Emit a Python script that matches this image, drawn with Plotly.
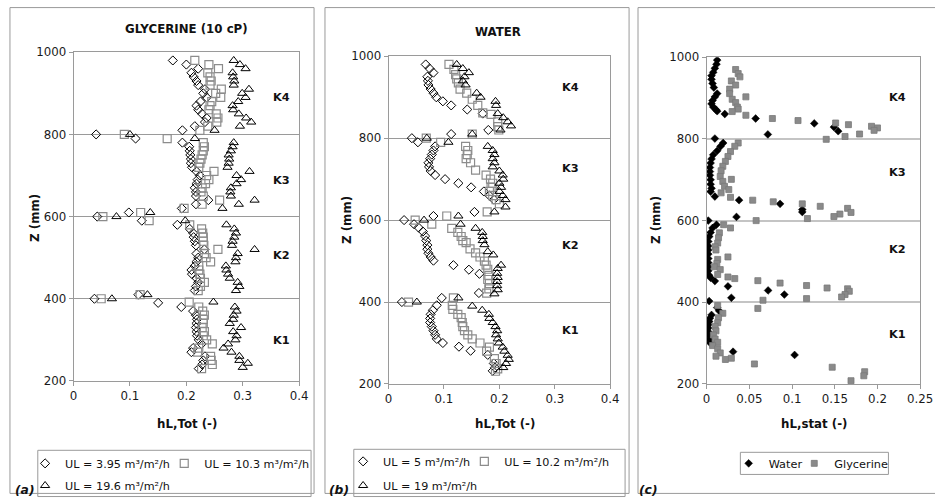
import plotly.graph_objects as go

W, H = 935, 501
FONT = "DejaVu Sans"

# the photographed page shows the paper slightly inset; positions below are given
# in picture pixels and converted to paper fractions here
SX, OX = 0.988, 3.0
SY, OY = 0.967, 8.0


def X(px):
    return (px - OX) / SX / W


def Y(py):
    return 1 - (py - OY) / SY / H


def clamp(v):
    return min(max(v, 0.6 / H), 1 - 0.6 / H)


# ---------------- Panel (a) : GLYCERINE (10 cP) ----------------
a_z_d = [980, 970, 960, 950, 940, 930, 920, 910, 900, 890, 880, 870, 860, 850, 840, 830, 820, 810,
         800, 790, 780,
         770, 760, 750, 740, 730, 720, 710, 700, 690, 680, 670, 660, 650, 640, 630, 620,
         610, 600, 590, 580,
         570, 560, 550, 540, 530, 520, 510, 500, 490, 480, 470, 460, 450, 440, 430, 420,
         410, 400, 390, 380,
         370, 360, 350, 340, 330, 320, 310, 300, 290, 280, 270, 260, 250, 240, 230]
a_h_d = [0.176, 0.200, 0.221, 0.209, 0.213, 0.218, 0.221, 0.233, 0.230, 0.236, 0.225, 0.218, 0.221, 0.228, 0.236, 0.233, 0.215, 0.193,
         0.040, 0.110, 0.193,
         0.205, 0.206, 0.207, 0.208, 0.208, 0.210, 0.218, 0.224, 0.220, 0.218, 0.215, 0.217, 0.217, 0.239, 0.217, 0.192,
         0.098, 0.042, 0.121, 0.184,
         0.206, 0.212, 0.213, 0.215, 0.217, 0.232, 0.218, 0.221, 0.218, 0.215, 0.209, 0.210, 0.218, 0.221, 0.217, 0.215,
         0.115, 0.037, 0.150, 0.191,
         0.212, 0.217, 0.219, 0.218, 0.217, 0.218, 0.219, 0.222, 0.227, 0.212, 0.209, 0.233, 0.230, 0.228, 0.222]

a_z_s = [980, 970, 960, 950, 940, 930, 920, 910, 900, 890, 880, 870, 860, 850, 840, 830, 820, 810,
         800, 790,
         780, 770, 760, 750, 740, 730, 720, 710, 700, 690, 680, 670, 660, 650, 640, 630, 620,
         610, 600, 590,
         580, 570, 560, 550, 540, 530, 520, 510, 500, 490, 480, 470, 460, 450, 440, 430, 420,
         410, 400, 392,
         380, 370, 360, 350, 340, 330, 320, 310, 300, 290, 280, 270, 260, 250, 240, 230]
a_h_s = [0.215, 0.240, 0.257, 0.238, 0.242, 0.244, 0.242, 0.262, 0.252, 0.261, 0.245, 0.242, 0.240, 0.253, 0.256, 0.254, 0.238, 0.224,
         0.090, 0.166,
         0.230, 0.232, 0.230, 0.228, 0.226, 0.224, 0.222, 0.249, 0.236, 0.240, 0.234, 0.228, 0.226, 0.230, 0.259, 0.228, 0.196,
         0.119, 0.052, 0.134,
         0.206, 0.227, 0.229, 0.230, 0.230, 0.231, 0.256, 0.232, 0.235, 0.243, 0.222, 0.222, 0.224, 0.225, 0.232, 0.225, 0.221,
         0.118, 0.049, 0.205,
         0.222, 0.229, 0.232, 0.230, 0.230, 0.228, 0.232, 0.230, 0.236, 0.246, 0.222, 0.220, 0.243, 0.244, 0.246, 0.227]

a_z_t = [980, 970, 960, 950, 940, 930, 920, 910, 900, 890, 880, 870, 860, 850, 840, 830, 820, 810,
         800, 790,
         780, 770, 760, 750, 740, 730, 720, 710, 700, 690, 680, 670, 660, 650, 640, 630, 620,
         610, 600, 590,
         580, 570, 560, 550, 540, 530, 520, 510, 500, 490, 480, 470, 460, 450, 440, 430, 420,
         410, 400, 392,
         380, 370, 360, 350, 340, 330, 320, 310, 300, 290, 280, 270, 260, 250, 243, 233]
a_h_t = [0.284, 0.295, 0.305, 0.282, 0.283, 0.285, 0.284, 0.311, 0.299, 0.305, 0.292, 0.282, 0.283, 0.293, 0.306, 0.315, 0.295, 0.250,
         0.100, 0.215,
         0.284, 0.282, 0.279, 0.275, 0.276, 0.275, 0.273, 0.312, 0.289, 0.297, 0.289, 0.279, 0.278, 0.279, 0.321, 0.293, 0.264,
         0.136, 0.076, 0.198,
         0.271, 0.285, 0.288, 0.285, 0.282, 0.281, 0.321, 0.291, 0.288, 0.287, 0.270, 0.271, 0.274, 0.277, 0.291, 0.294, 0.288,
         0.131, 0.068, 0.248,
         0.286, 0.289, 0.284, 0.283, 0.277, 0.297, 0.283, 0.289, 0.287, 0.274, 0.266, 0.280, 0.294, 0.294, 0.309, 0.300]

# ---------------- Panel (b) : WATER ----------------
b_z_d = [980, 970, 960, 950, 940, 930, 920, 910, 900, 890, 880, 870, 860, 820, 810,
         800, 790,
         780, 770, 760, 750, 740, 730, 720, 710, 700, 690, 680, 670, 660, 650, 620,
         610, 600, 590,
         582, 572, 561, 550, 539, 529, 519, 510, 501, 490, 479, 469, 422,
         410, 400, 392,
         380, 370, 360, 350, 340, 330, 320, 310, 300, 291, 281, 271, 250, 240, 232]
b_h_d = [0.067, 0.074, 0.081, 0.070, 0.071, 0.072, 0.076, 0.081, 0.086, 0.098, 0.113, 0.142, 0.170, 0.180, 0.113,
         0.042, 0.053,
         0.084, 0.081, 0.078, 0.075, 0.072, 0.073, 0.076, 0.084, 0.102, 0.126, 0.149, 0.172, 0.182, 0.190, 0.155,
         0.081, 0.028, 0.046,
         0.054, 0.062, 0.066, 0.068, 0.070, 0.070, 0.072, 0.076, 0.081, 0.117, 0.145, 0.164, 0.163,
         0.096, 0.024, 0.087,
         0.080, 0.076, 0.075, 0.075, 0.078, 0.081, 0.084, 0.087, 0.098, 0.127, 0.148, 0.179, 0.190, 0.192, 0.188]

b_z_s = [980, 968, 955, 945, 935, 920, 910, 895, 880, 862, 858, 840, 828, 820,
         810, 800, 790,
         780, 770, 760, 750, 740, 722, 710, 700, 690, 680, 670, 660, 650, 640, 620,
         610, 600, 590,
         580, 570, 560, 550, 545, 530, 520, 510, 500, 490, 480, 465, 455, 445, 432, 422,
         410, 400, 392, 382,
         370, 362, 350, 340, 330, 320, 310, 300, 290, 280, 262, 250, 237, 231]
b_h_s = [0.109, 0.118, 0.121, 0.123, 0.126, 0.129, 0.141, 0.151, 0.161, 0.170, 0.185, 0.197, 0.197, 0.199,
         0.151, 0.068, 0.094,
         0.139, 0.143, 0.142, 0.140, 0.148, 0.157, 0.176, 0.184, 0.188, 0.185, 0.182, 0.188, 0.194, 0.200, 0.178,
         0.105, 0.048, 0.078,
         0.114, 0.125, 0.131, 0.134, 0.140, 0.147, 0.157, 0.165, 0.173, 0.176, 0.179, 0.181, 0.179, 0.182, 0.181, 0.177,
         0.117, 0.036, 0.115, 0.116,
         0.125, 0.131, 0.133, 0.134, 0.137, 0.143, 0.151, 0.165, 0.182, 0.177, 0.191, 0.194, 0.197, 0.193]

b_z_t = [980, 970, 960, 950, 940, 930, 910, 900, 890, 880, 860, 850, 840, 830, 820,
         810, 800, 790,
         780, 770, 760, 750, 740, 730, 720, 710, 700, 690, 680, 670, 660, 650, 632, 620,
         610, 600, 590,
         580, 570, 560, 550, 540, 523, 515, 490, 482, 470, 460, 450, 440, 430, 420,
         410, 400, 390, 380,
         370, 360, 350, 340, 330, 320, 310, 300, 290, 280, 270, 260, 250, 240]
b_h_t = [0.123, 0.134, 0.145, 0.137, 0.134, 0.139, 0.159, 0.166, 0.193, 0.194, 0.197, 0.207, 0.215, 0.221, 0.202,
         0.151, 0.069, 0.108,
         0.179, 0.188, 0.191, 0.188, 0.191, 0.188, 0.200, 0.206, 0.207, 0.200, 0.203, 0.200, 0.206, 0.211, 0.211, 0.191,
         0.126, 0.064, 0.130,
         0.157, 0.169, 0.170, 0.170, 0.173, 0.179, 0.189, 0.203, 0.197, 0.196, 0.197, 0.196, 0.196, 0.197, 0.191,
         0.126, 0.051, 0.151, 0.169,
         0.181, 0.182, 0.188, 0.193, 0.196, 0.194, 0.197, 0.199, 0.206, 0.209, 0.215, 0.217, 0.212, 0.207]

# ---------------- Panel (c) : static hold-up ----------------
c_z_w = [993, 983, 973, 963, 955, 946, 936, 926, 911, 903, 894, 886, 878, 872, 868, 861, 850, 838, 829, 819, 811, 801,
         790, 782, 771, 761, 751, 741, 730, 720, 711, 700, 689, 679, 671, 659, 650, 641, 627, 621, 609, 600,
         590, 582, 571, 561, 549, 538, 528, 518, 507, 497, 487, 477, 466, 460, 452, 439, 429, 419, 411, 403,
         387, 379, 369, 361, 353, 345, 337, 328, 320, 309, 301, 279, 271]
c_h_w = [0.0124, 0.0116, 0.0097, 0.0078, 0.0058, 0.0058, 0.0070, 0.0085, 0.0124, 0.0097, 0.0070, 0.0058, 0.0078, 0.0109, 0.0124, 0.0213, 0.0574, 0.126, 0.149, 0.154, 0.0717, 0.0097,
         0.0194, 0.0163, 0.0124, 0.0078, 0.0058, 0.0047, 0.0039, 0.0039, 0.0039, 0.0047, 0.0047, 0.0058, 0.0047, 0.0097, 0.038, 0.086, 0.112, 0.112, 0.035, 0.002,
         0.0116, 0.007, 0.0047, 0.0031, 0.002, 0.002, 0.002, 0.002, 0.002, 0.002, 0.002, 0.002, 0.003, 0.0047, 0.0097, 0.025, 0.072, 0.091, 0.029, 0.003,
         0.0124, 0.0147, 0.0058, 0.0039, 0.0031, 0.002, 0.002, 0.002, 0.002, 0.003, 0.0039, 0.031, 0.103]

c_z_g = [970, 960, 952, 942, 932, 922, 911, 903, 897, 889, 878, 873, 867, 858, 850, 845, 839, 835, 831, 827, 821, 812, 806, 799,
         790, 782, 769, 757, 745, 733, 722, 708, 701, 696, 684, 676, 668, 657, 650, 646, 641, 635, 630, 620, 616, 610, 605, 600,
         590, 582, 570, 558, 545, 536, 528, 511, 505, 495, 487, 480, 468, 462, 458, 453, 447, 441, 435, 433, 427, 419, 413, 409, 405, 385,
         392, 373, 362, 350, 341, 330, 320, 310, 302, 294, 286, 276, 268, 263, 260, 249, 241, 230, 220, 208]
c_h_g = [0.034, 0.037, 0.039, 0.029, 0.034, 0.027, 0.027, 0.046, 0.030, 0.034, 0.036, 0.037, 0.030, 0.046, 0.077, 0.107, 0.151, 0.166, 0.193, 0.200, 0.196, 0.179, 0.162, 0.140,
         0.037, 0.033, 0.028, 0.025, 0.022, 0.019, 0.017, 0.016, 0.029, 0.019, 0.021, 0.026, 0.017, 0.028, 0.054, 0.078, 0.112, 0.133, 0.165, 0.169, 0.156, 0.149, 0.118, 0.058,
         0.020, 0.028, 0.015, 0.014, 0.013, 0.010, 0.011, 0.025, 0.013, 0.012, 0.009, 0.016, 0.013, 0.025, 0.033, 0.060, 0.086, 0.117, 0.141, 0.165, 0.167, 0.162, 0.158, 0.117, 0.066, 0.060,
         0.013, 0.019, 0.014, 0.013, 0.010, 0.011, 0.008, 0.010, 0.013, 0.007, 0.013, 0.016, 0.011, 0.029, 0.022, 0.056, 0.147, 0.185, 0.184, 0.169]

# tick values / labels
z_ticks = [200, 400, 600, 800, 1000]
h_ticks_ab = [0, 0.1, 0.2, 0.3, 0.4]
h_ticks_c = [0, 0.05, 0.1, 0.15, 0.2, 0.25]
sections = ["K1", "K2", "K3", "K4"]

# ---------------- figure ----------------
fig = go.Figure()

GRAY = "#8c8c8c"
AX = "#9a9a9a"


def add(x, y, xa, ya, name, symbol, color, size, legend, lw=1.0, lcolor=None):
    fig.add_trace(go.Scatter(
        x=x, y=y, mode="markers", name=name, xaxis=xa, yaxis=ya, legend=legend,
        marker=dict(symbol=symbol, size=size, color=color,
                    line=dict(color=lcolor or color, width=lw)),
        hoverinfo="x+y"))


add(a_h_d, a_z_d, "x", "y", "UL = 3.95 m³/m²/h", "diamond-open", "#000", 7, "legend")
add(a_h_s, a_z_s, "x", "y", "UL = 10.3 m³/m²/h", "square-open", GRAY, 8, "legend2", 1.2)
add(a_h_t, a_z_t, "x", "y", "UL = 19.6 m³/m²/h", "triangle-up-open", "#000", 8, "legend3")

add(b_h_d, b_z_d, "x2", "y2", "UL = 5 m³/m²/h", "diamond-open", "#000", 7, "legend4")
add(b_h_s, b_z_s, "x2", "y2", "UL = 10.2 m³/m²/h", "square-open", GRAY, 8, "legend5", 1.2)
add(b_h_t, b_z_t, "x2", "y2", "UL = 19 m³/m²/h", "triangle-up-open", "#000", 8, "legend6")

add(c_h_w, c_z_w, "x3", "y3", "Water", "diamond", "#000", 6, "legend7", 0.5)
add(c_h_g, c_z_g, "x3", "y3", "Glycerine", "square", "#8a8a8a", 6, "legend8", 0.8, "#7a7a7a")

tickfont = dict(family=FONT, size=11.8, color="#1a1a1a")


def xax(dom, rng, ticks):
    return dict(domain=[X(dom[0]), min(X(dom[1]), 1.0)], range=rng, tickvals=ticks,
                ticktext=[("%g" % t) for t in ticks], ticklabeloverflow="allow",
                showline=True, linecolor=AX, linewidth=1, mirror=True,
                ticks="outside", ticklen=4, tickcolor=AX, showgrid=False,
                zeroline=False, tickfont=tickfont, fixedrange=True)


def yax(dom, anchor, gridcolor=AX, gridwidth=1):
    return dict(domain=[Y(dom[1]), Y(dom[0])], range=[200, 1000], tickvals=z_ticks,
                showline=True, linecolor=AX, linewidth=1, mirror=True, anchor=anchor,
                ticks="outside", ticklen=4, tickcolor=AX, showgrid=True,
                gridcolor=gridcolor, gridwidth=gridwidth,
                zeroline=False, tickfont=tickfont, fixedrange=True)


xa = xax((73, 300), [0, 0.4], h_ticks_ab)
xa["anchor"] = "y"
xb = xax((390, 613), [0, 0.4], h_ticks_ab)
xb["anchor"] = "y2"
xc = xax((710, 925), [0, 0.25], h_ticks_c)
xc["anchor"] = "y3"

ya = yax((53, 380), "x")
yb = yax((57, 383), "x2")
yc = yax((58, 383), "x3", "#c4c4c4", 2)

# panel frames and legend boxes
shapes = []
for (x0, x1) in [(9, 315), (326, 632), (641, 960)]:
    shapes.append(dict(type="rect", xref="paper", yref="paper", x0=X(x0), x1=X(x1),
                       y0=clamp(Y(497)), y1=clamp(Y(7)), line=dict(color=AX, width=1), layer="below"))
for (x0, y0, x1, y1) in [(37, 449, 312, 495), (355, 448, 628, 495), (744, 451, 893, 473)]:
    shapes.append(dict(type="rect", xref="paper", yref="paper", x0=X(x0), x1=X(x1),
                       y0=Y(y1), y1=Y(y0), line=dict(color=AX, width=1)))

bold = dict(family=FONT, size=11.8, color="#111")
ann = []


def txt(px, py, s, font, angle=0, xanchor="center"):
    ann.append(dict(x=X(px), y=Y(py), xref="paper", yref="paper", text=s, showarrow=False,
                    font=font, textangle=angle, xanchor=xanchor, yanchor="middle"))


txt(187, 30, "<b>GLYCERINE (10 cP)</b>", dict(family=FONT, size=11.8, color="#111"))
txt(500, 33, "<b>WATER</b>", dict(family=FONT, size=11.8, color="#111"))
txt(187, 423, "<b>hL,Tot (-)</b>", bold)
txt(507, 423, "<b>hL,Tot (-)</b>", bold)
txt(818, 423, "<b>hL,stat (-)</b>", bold)
txt(34, 218, "<b>Z (mm)</b>", bold, -90)
txt(348, 220, "<b>Z (mm)</b>", bold, -90)
txt(659, 220, "<b>Z (mm)</b>", bold, -90)
lab = dict(family=FONT, size=12.3, color="#111")
txt(24, 488, "<b><i>(a)</i></b>", lab)
txt(340, 488, "<b><i>(b)</i></b>", lab)
txt(652, 488, "<b><i>(c)</i></b>", lab)

kfont = dict(family=FONT, size=11.3, color="#111")
for xr, yr, xpos, zpos in [("x", "y", 0.368, [298, 506, 689, 890]),
                           ("x2", "y2", 0.328, [330, 539, 725, 924]),
                           ("x3", "y3", 0.223, [321, 530, 719, 901])]:
    for k, zz in zip(sections, zpos):
        ann.append(dict(x=xpos, y=zz, xref=xr, yref=yr, text="<b>%s</b>" % k, showarrow=False,
                        font=kfont, xanchor="center", yanchor="middle"))

SYM_OFF = 20  # px from legend left edge to legend symbol centre


def leg(sym_px, py, size=11.2):
    return dict(x=X(sym_px) - SYM_OFF / W, y=Y(py), xanchor="left", yanchor="middle",
                orientation="h", bgcolor="rgba(0,0,0,0)", borderwidth=0, itemwidth=30,
                tracegroupgap=0, font=dict(family=FONT, size=size, color="#111"))


fig.update_layout(
    width=W, height=H, margin=dict(l=0, r=0, t=0, b=0),
    paper_bgcolor="white", plot_bgcolor="white",
    showlegend=True,
    xaxis=xa, yaxis=ya, xaxis2=xb, yaxis2=yb, xaxis3=xc, yaxis3=yc,
    legend=leg(44, 462), legend2=leg(184, 462), legend3=leg(44, 484),
    legend4=leg(364, 460), legend5=leg(486, 460), legend6=leg(364, 484),
    legend7=leg(752, 462, 11.3), legend8=leg(818, 462, 11.3),
    shapes=shapes, annotations=ann,
    font=dict(family=FONT),
)

fig.write_html(
    "out.html",
    config={"displayModeBar": False},
    post_script=("document.body.style.margin='0';"
                 "document.body.style.overflow='hidden';"
                 "document.documentElement.style.overflow='hidden';"),
)
